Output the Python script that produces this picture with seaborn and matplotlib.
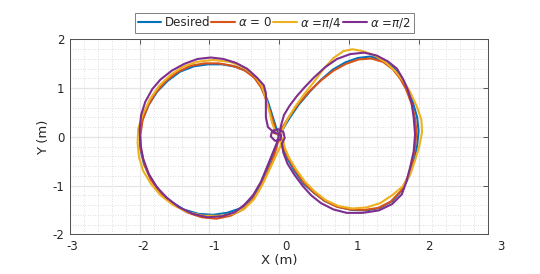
import matplotlib
matplotlib.use("Agg")
import matplotlib.pyplot as plt
import matplotlib.transforms as mtransforms
from matplotlib.ticker import MultipleLocator
import seaborn as sns

# trajectories (metres)
desired_x = [0.00, 0.07, 0.16, 0.28, 0.44, 0.60, 0.77, 0.95, 1.13, 1.31, 1.48, 1.64, 1.76, 1.84, 1.92, 1.98,
             2.00, 1.98, 1.93, 1.86, 1.76, 1.62, 1.44, 1.25, 1.05, 0.85, 0.66, 0.50, 0.35, 0.22, 0.12, 0.05,
             0.00, -0.05, -0.10, -0.16, -0.23, -0.32, -0.45, -0.62, -0.82, -1.02, -1.22, -1.42, -1.60, -1.75,
             -1.87, -1.96, -2.00, -1.99, -1.94, -1.85, -1.72, -1.56, -1.37, -1.16, -0.95, -0.75, -0.56, -0.42,
             -0.32, -0.22, -0.13, -0.06, 0.00]
desired_y = [0.00, 0.20, 0.41, 0.66, 0.93, 1.17, 1.38, 1.53, 1.62, 1.65, 1.58, 1.42, 1.22, 1.00, 0.70, 0.40,
             0.12, -0.18, -0.50, -0.82, -1.10, -1.32, -1.46, -1.51, -1.50, -1.44, -1.32, -1.15, -0.96, -0.70,
             -0.45, -0.22, 0.00, 0.22, 0.45, 0.72, 0.98, 1.18, 1.34, 1.44, 1.49, 1.49, 1.45, 1.34, 1.15, 0.93,
             0.66, 0.36, 0.05, -0.25, -0.55, -0.84, -1.10, -1.32, -1.49, -1.58, -1.60, -1.56, -1.47, -1.30,
             -1.12, -0.82, -0.51, -0.24, 0.00]

alpha0_x = [0.00, 0.05, 0.14, 0.27, 0.43, 0.60, 0.78, 0.96, 1.14, 1.32, 1.49, 1.63, 1.74, 1.82, 1.90, 1.95,
            1.97, 1.95, 1.91, 1.84, 1.74, 1.60, 1.42, 1.22, 1.02, 0.82, 0.64, 0.49, 0.35, 0.23, 0.13, 0.06,
            0.02, -0.03, -0.08, -0.06, -0.08, -0.13, -0.19, -0.26, -0.36, -0.50, -0.67, -0.87, -1.07, -1.27,
            -1.46, -1.63, -1.77, -1.88, -1.96, -1.99, -1.98, -1.93, -1.84, -1.70, -1.52, -1.32, -1.11, -0.90,
            -0.70, -0.53, -0.40, -0.29, -0.19, -0.10, -0.04, 0.00]
alpha0_y = [0.02, 0.20, 0.41, 0.67, 0.93, 1.16, 1.36, 1.50, 1.59, 1.61, 1.54, 1.39, 1.19, 0.98, 0.68, 0.38,
            0.10, -0.20, -0.52, -0.84, -1.12, -1.33, -1.46, -1.50, -1.49, -1.43, -1.30, -1.13, -0.93, -0.68,
            -0.43, -0.20, -0.02, 0.06, 0.08, 0.15, 0.30, 0.52, 0.78, 1.02, 1.22, 1.37, 1.46, 1.51, 1.51, 1.46,
            1.33, 1.14, 0.91, 0.64, 0.34, 0.03, -0.28, -0.58, -0.88, -1.15, -1.38, -1.55, -1.65, -1.68,
            -1.62, -1.50, -1.32, -1.10, -0.80, -0.50, -0.24, 0.00]

alpha45_x = [0.02, 0.06, 0.12, 0.22, 0.35, 0.50, 0.64, 0.78, 0.92, 1.05, 1.20, 1.36, 1.52, 1.66, 1.78, 1.88,
             1.97, 2.04, 2.05, 2.01, 1.95, 1.88, 1.77, 1.62, 1.45, 1.25, 1.05, 0.85, 0.67, 0.51, 0.37, 0.24,
             0.14, 0.08, 0.06, 0.02, -0.05, -0.10, -0.14, -0.19, -0.25, -0.35, -0.50, -0.70, -0.95, -1.18,
             -1.38, -1.56, -1.72, -1.85, -1.95, -2.02, -2.03, -2.01, -1.95, -1.84, -1.70, -1.52, -1.30, -1.08,
             -0.85, -0.66, -0.50, -0.36, -0.24, -0.14, -0.05, 0.03, 0.02]
alpha45_y = [0.02, 0.18, 0.36, 0.60, 0.86, 1.13, 1.40, 1.62, 1.76, 1.80, 1.76, 1.68, 1.54, 1.36, 1.15, 0.92,
             0.64, 0.36, 0.10, -0.20, -0.48, -0.78, -1.02, -1.20, -1.36, -1.45, -1.47, -1.42, -1.30, -1.12,
             -0.92, -0.66, -0.42, -0.22, -0.08, 0.02, 0.10, 0.28, 0.52, 0.78, 1.05, 1.25, 1.42, 1.54, 1.58,
             1.54, 1.44, 1.27, 1.05, 0.78, 0.48, 0.18, -0.12, -0.42, -0.70, -0.96, -1.20, -1.40, -1.55, -1.62,
             -1.62, -1.58, -1.48, -1.28, -0.98, -0.68, -0.40, -0.16, 0.02]

alpha90_x = [0.00, 0.03, 0.07, 0.15, 0.25, 0.36, 0.50, 0.66, 0.83, 1.02, 1.22, 1.40, 1.56, 1.69, 1.78, 1.85,
             1.90, 1.93, 1.95, 1.93, 1.88, 1.83, 1.76, 1.62, 1.43, 1.20, 0.97, 0.78, 0.60, 0.46, 0.34, 0.22,
             0.12, 0.06, 0.04, 0.08, 0.06, -0.02, -0.10, -0.12, -0.06, 0.02, 0.03, -0.08, -0.16, -0.19, -0.19,
             -0.19, -0.22, -0.32, -0.46, -0.62, -0.80, -0.98, -1.17, -1.36, -1.54, -1.70, -1.82, -1.92, -1.98,
             -2.00, -1.99, -1.95, -1.87, -1.76, -1.62, -1.44, -1.24, -1.03, -0.82, -0.64, -0.50, -0.37, -0.26,
             -0.18, -0.10, -0.03, 0.00]
alpha90_y = [0.05, 0.25, 0.45, 0.64, 0.83, 1.01, 1.22, 1.43, 1.60, 1.70, 1.73, 1.67, 1.55, 1.40, 1.18, 0.95,
             0.70, 0.40, 0.05, -0.30, -0.62, -0.90, -1.18, -1.38, -1.51, -1.56, -1.56, -1.49, -1.36, -1.20,
             -1.01, -0.78, -0.55, -0.32, -0.14, -0.02, 0.10, 0.16, 0.12, 0.01, -0.08, -0.06, 0.04, 0.10, 0.20,
             0.40, 0.65, 0.90, 1.06, 1.22, 1.40, 1.52, 1.60, 1.63, 1.60, 1.50, 1.36, 1.18, 0.98, 0.72, 0.45,
             0.15, -0.15, -0.45, -0.76, -1.02, -1.24, -1.44, -1.58, -1.65, -1.63, -1.55, -1.40, -1.19, -0.92,
             -0.64, -0.36, -0.12, 0.05]

labels = ["Desired", r"$\alpha$ = 0", r"$\alpha$ =$\pi$/4", r"$\alpha$ =$\pi$/2"]
xs = [desired_x, alpha0_x, alpha45_x, alpha90_x]
ys = [desired_y, alpha0_y, alpha45_y, alpha90_y]
colors = ["#0072BD", "#D95319", "#EDB120", "#7E2F8E"]

sns.set_theme(style="white")
plt.rcParams["font.family"] = ["DejaVu Sans"]
plt.rcParams["axes.unicode_minus"] = False
text_col = "#262626"

fig = plt.figure(figsize=(5.4, 2.74), dpi=100)
ax = fig.add_axes([0.1296, 0.1449, 0.7746, 0.711])

for x, y, lab, c in zip(xs, ys, labels, colors):
    sns.lineplot(x=x, y=y, sort=False, estimator=None, color=c, lw=1.5, label=lab, ax=ax)

ax.set_xlim(-3, 3)
ax.set_ylim(-2, 2)
ax.set_xticks(range(-3, 4))
ax.set_yticks(range(-2, 3))
ax.xaxis.set_minor_locator(MultipleLocator(0.2))
ax.yaxis.set_minor_locator(MultipleLocator(0.2))
ax.grid(which="major", color="#e4e4e4", lw=0.9, ls="-")
ax.grid(which="minor", color="#d4d4d4", lw=0.6, ls=(0, (1, 2)))
ax.set_axisbelow(True)
ax.tick_params(which="major", direction="in", length=3.5, width=0.6, color="#404040",
               labelsize=8.5, labelcolor=text_col, top=True, right=True, pad=4)
ax.tick_params(which="minor", length=0)
for s in ax.spines.values():
    s.set_color("#505050")
    s.set_linewidth(0.7)

ax.set_xlabel("X (m)", fontsize=9.5, color=text_col, labelpad=1)
ax.set_ylabel("Y (m)", fontsize=9.5, color=text_col, labelpad=2)

# the reference's x tick labels drift rightwards a little
for i, t in enumerate(ax.get_xticklabels()):
    off = mtransforms.ScaledTranslation((2 + 1.7 * i) / 100.0, 0, fig.dpi_scale_trans)
    t.set_transform(t.get_transform() + off)

leg = ax.legend(loc="lower center", bbox_to_anchor=(0.488, 1.035), ncol=4, fontsize=8.6,
                frameon=True, fancybox=False, handlelength=2.0, handletextpad=0.25,
                columnspacing=0.1, borderpad=0.25, borderaxespad=0)
leg.get_frame().set_edgecolor("#606060")
leg.get_frame().set_linewidth(0.7)
for t in leg.get_texts():
    t.set_color(text_col)

fig.savefig("out.png", dpi=100)
